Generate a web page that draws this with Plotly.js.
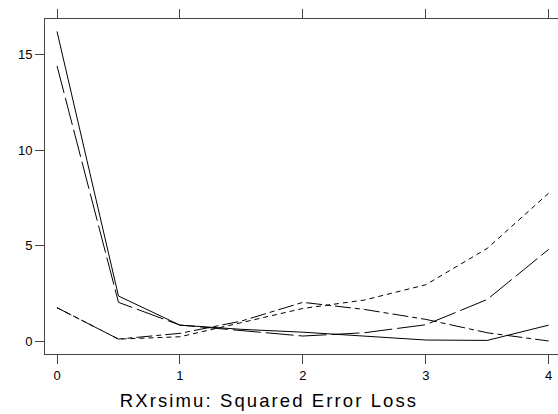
<!DOCTYPE html>
<html>
<head>
<meta charset="utf-8">
<script src="https://cdn.plot.ly/plotly-3.0.1.min.js"></script>
<style>
  html, body { margin: 0; padding: 0; background: #fff; }
  #chart { width: 558px; height: 414px; }
  .gtitle { letter-spacing: 2.1px; }
</style>
</head>
<body>
<div id="chart"></div>
<script>
// Parameter grid shared by all four curves
const xValues = [0, 0.5, 1, 1.5, 2, 2.5, 3, 3.5, 4];

// Squared error loss of the four estimators
const lossSolid     = [16.2, 2.37, 0.85, 0.63, 0.48, 0.28, 0.07, 0.05, 0.85];
const lossLongDash  = [14.4, 2.04, 0.85, 0.55, 0.28, 0.45, 0.87, 2.19, 4.81];
const lossShortDash = [1.76, 0.12, 0.24, 0.97, 1.72, 2.16, 2.96, 4.86, 7.75];
const lossDashDot   = [1.76, 0.12, 0.42, 1.06, 2.04, 1.67, 1.15, 0.45, 0.02];

const xTicks = [0, 1, 2, 3, 4];
const yTicks = [0, 5, 10, 15];
const chartTitle = 'RXrsimu: Squared Error Loss';

function curve(y, dash) {
  return {
    x: xValues, y: y, type: 'scatter', mode: 'lines',
    line: { color: '#000', width: 1, dash: dash },
    hoverinfo: 'skip', showlegend: false
  };
}

const traces = [
  curve(lossSolid, 'solid'),
  curve(lossLongDash, '28px,5px'),
  curve(lossShortDash, '5px,4px'),
  curve(lossDashDot, '16px,4px,5px,4px')
];

const axisCommon = {
  showgrid: false, zeroline: false,
  showline: true, linecolor: '#444', linewidth: 1,
  mirror: 'allticks', ticks: 'outside', ticklen: 9, tickwidth: 1, tickcolor: '#444',
  tickfont: { family: 'Liberation Sans, Arial, sans-serif', size: 13, color: '#000' }
};

const layout = {
  width: 558, height: 414,
  margin: { l: 45, r: 0, t: 19, b: 60 },
  paper_bgcolor: '#fff', plot_bgcolor: '#fff',
  title: {
    text: chartTitle,
    font: { family: 'Liberation Sans, Arial, sans-serif', size: 18.5, color: '#000' },
    xref: 'container', yref: 'container',
    x: 269 / 558, y: 13 / 414, xanchor: 'center', yanchor: 'middle'
  },
  xaxis: Object.assign({}, axisCommon, {
    range: [-0.0977, 4.0757], tickvals: xTicks, ticktext: xTicks.map(String)
  }),
  yaxis: Object.assign({}, axisCommon, {
    range: [-0.66, 16.85], tickvals: yTicks, ticktext: yTicks.map(String)
  })
};

Plotly.newPlot('chart', traces, layout, { displayModeBar: false, staticPlot: true });
</script>
</body>
</html>
